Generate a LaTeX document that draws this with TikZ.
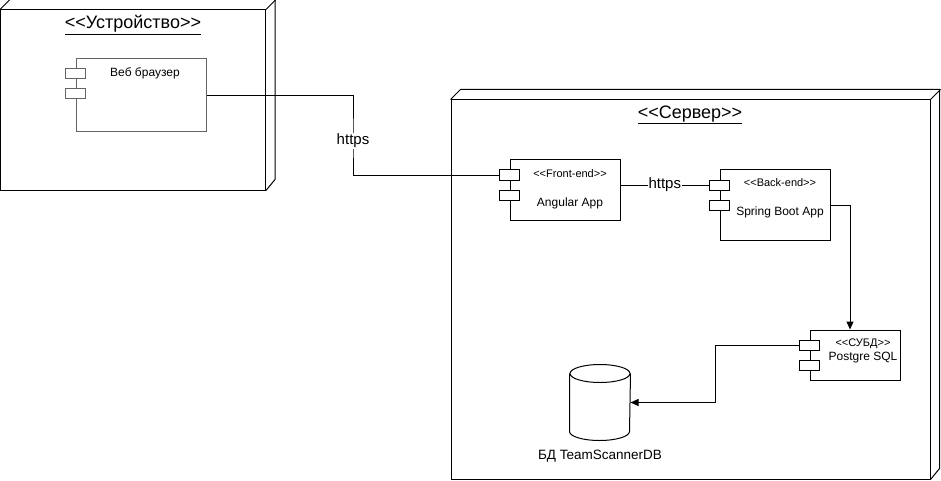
\documentclass[tikz,border=0pt]{standalone}
\usepackage{fontspec}
\setmainfont{Liberation Sans}[Ligatures=TeXOff]
\usetikzlibrary{arrows.meta}

\begin{document}
\begin{tikzpicture}[x=1pt, y=-1pt, line width=1pt,
    face/.style={draw, rectangle, inner sep=0pt},
    comp/.style={draw, rectangle, inner sep=0pt},
    port/.style={draw, fill=white, rectangle, inner sep=0pt,
        minimum width=20pt, minimum height=10pt},
    ttl/.style={font=\fontsize{18}{20}\selectfont, inner sep=0pt},
    txt/.style={font=\fontsize{12}{14}\selectfont, inner sep=0pt},
    stereo/.style={font=\fontsize{11}{13}\selectfont, inner sep=0pt},
    lbl/.style={font=\fontsize{15}{17}\selectfont, fill=white, inner sep=1pt},
    >={Triangle[length=8pt,width=7pt]}]
    \definecolor{compgray}{RGB}{100,100,100}
    \def\dep{10}   % 节点立体深度
    \def\ry{9pt}   % 圆柱椭圆半径
    \def\rx{30pt}

    \useasboundingbox (0,0) rectangle (941,481);

    % 设备节点
    \node[face, minimum width=265pt, minimum height=180pt] (device) at (133,100) {};
    \draw (device.north west) -- ++(\dep,-\dep) -- ++(265,0) -- ++(0,180) -- (device.south east);
    \draw (device.north east) -- ++(\dep,-\dep);
    \node[ttl] (devtitle) at (133,25) {\underline{<<Устройство>>}};

    % 服务器节点
    \node[face, minimum width=479pt, minimum height=379pt] (server) at (690.5,289.5) {};
    \draw (server.north west) -- ++(\dep,-\dep) -- ++(479,0) -- ++(0,379) -- (server.south east);
    \draw (server.north east) -- ++(\dep,-\dep);
    \node[ttl] (srvtitle) at (690,115) {\underline{<<Сервер>>}};

    % 浏览器组件
    \node[comp, draw=compgray, minimum width=130pt, minimum height=73pt] (browser) at (141,95.5) {};
    \node[port, draw=compgray] (brP1) at (browser.west |- 0,74) {};
    \node[port, draw=compgray] (brP2) at (browser.west |- 0,94) {};
    \node[txt] (brtext) at (145,73) {Веб браузер};

    % 前端组件
    \node[comp, minimum width=110pt, minimum height=60pt] (angular) at (565,190) {};
    \node[port] (angP1) at (angular.west |- 0,175) {};
    \node[port] (angP2) at (angular.west |- 0,195) {};
    \node[stereo] (angst) at (570,174) {<<Front-end>>};
    \node[txt] (angtext) at (570,203) {Angular App};

    % 后端组件
    \node[comp, minimum width=110pt, minimum height=70pt] (spring) at (775,205) {};
    \node[port] (spP1) at (spring.west |- 0,185) {};
    \node[port] (spP2) at (spring.west |- 0,205) {};
    \node[stereo] (spst) at (780,183) {<<Back-end>>};
    \node[txt] (sptext) at (780,212) {Spring Boot App};

    % 数据库管理系统
    \node[comp, minimum width=90pt, minimum height=50pt] (pg) at (855,355) {};
    \node[port] (pgP1) at (pg.west |- 0,345) {};
    \node[port] (pgP2) at (pg.west |- 0,365) {};
    \node[stereo] (pgst) at (863,344) {<<СУБД>>};
    \node[txt] (pgtext) at (863,358) {Postgre SQL};

    % 数据库 (圆柱)
    \node[inner sep=0pt, minimum width=60pt, minimum height=75pt] (db) at (600,402.5) {};
    \draw ([yshift=-\ry]db.north west) -- ([yshift=\ry]db.south west)
        arc[start angle=180, end angle=360, x radius=\rx, y radius=\ry]
        -- ([yshift=-\ry]db.north east);
    \draw ([yshift=-\ry]db.north) ellipse [x radius=\rx, y radius=\ry];
    \node[font=\fontsize{13.5}{15}\selectfont, inner sep=0pt] (dbtext) at (600,456) {БД TeamScannerDB};

    % 连线
    \coordinate (bend) at (353,141);
    \draw (browser.east) -| (bend) |- (angP1.west);
    \node[lbl] (https1) at (bend) {https};
    \draw (angular.east |- spP1.west) -- node[lbl] (https2) {https} (spP1.west);
    \draw[->] (spring.east) -| ([xshift=-5pt]pg.north);
    \coordinate (dbturn) at (715,400);
    \draw[->] (pgP1.west) -| (dbturn) |- (db.east);
\end{tikzpicture}
\end{document}
